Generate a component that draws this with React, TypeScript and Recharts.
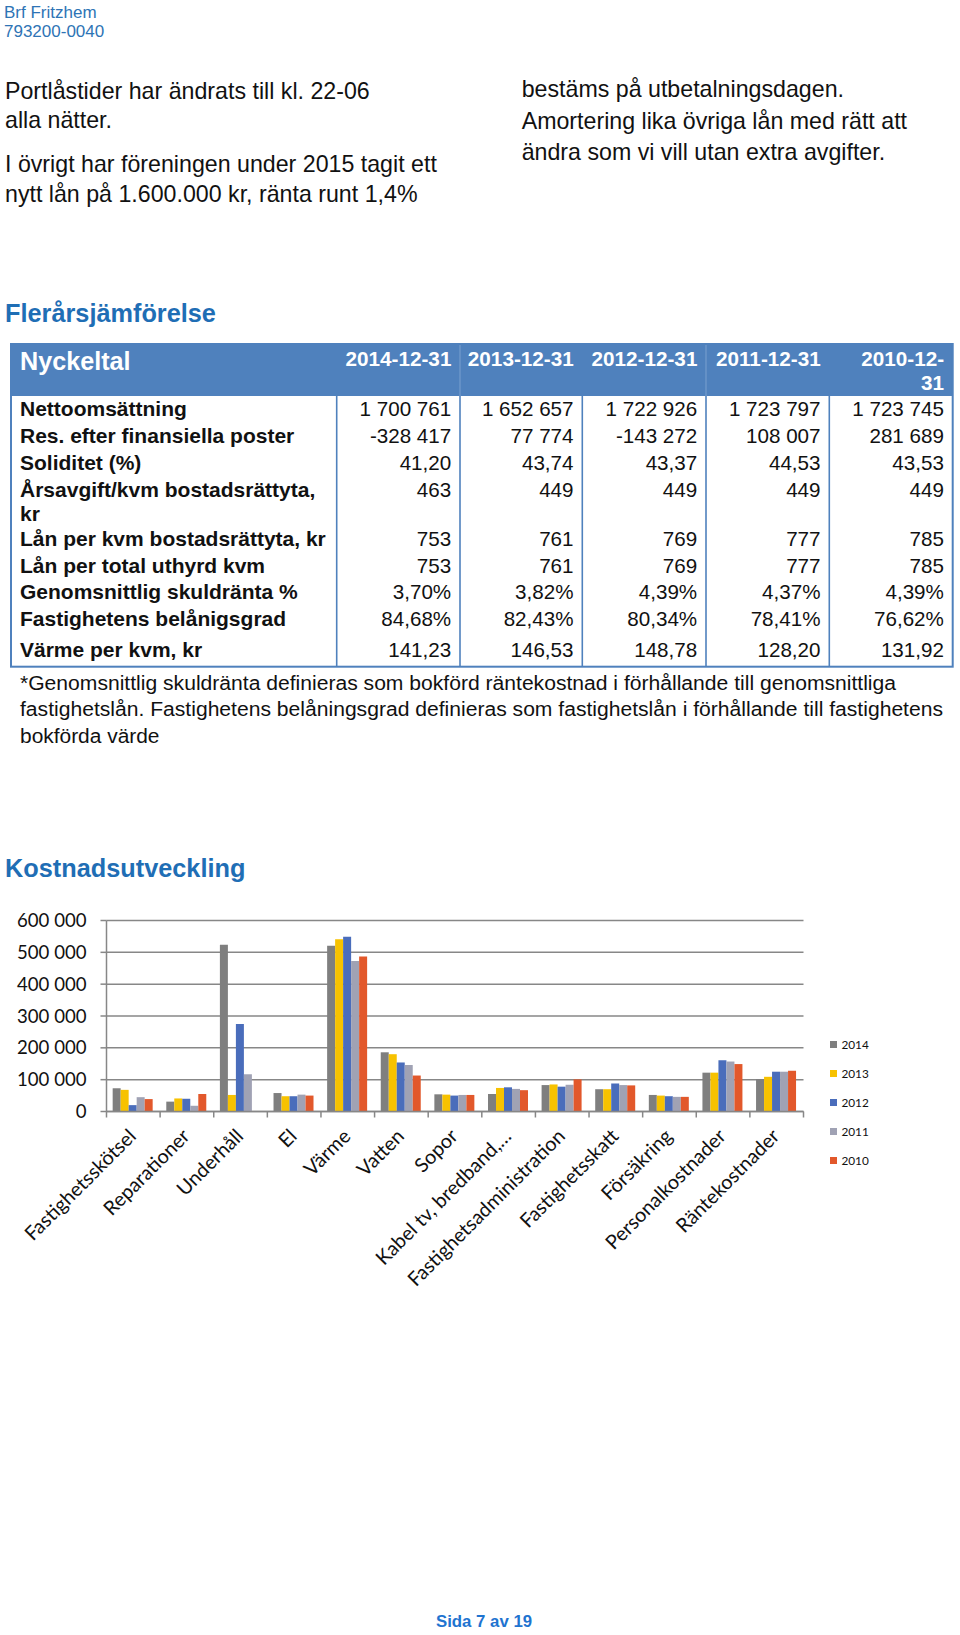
import React from 'react';
import { BarChart, Bar, XAxis, YAxis, CartesianGrid, Legend } from 'recharts';

// ---------- page text ----------
const headerLines = ['Brf Fritzhem', '793200-0040'];
const leftParagraphLines = [
  'Portlåstider har ändrats till kl. 22-06',
  'alla nätter.',
  'I övrigt har föreningen under 2015 tagit ett',
  'nytt lån på 1.600.000 kr, ränta runt 1,4%',
];
const rightParagraphLines = [
  'bestäms på utbetalningsdagen.',
  'Amortering lika övriga lån med rätt att',
  'ändra som vi vill utan extra avgifter.',
];
const sectionTitle1 = 'Flerårsjämförelse';
const sectionTitle2 = 'Kostnadsutveckling';
const footerText = 'Sida 7 av 19';
const footnoteLines = [
  '*Genomsnittlig skuldränta definieras som bokförd räntekostnad i förhållande till genomsnittliga',
  'fastighetslån. Fastighetens belåningsgrad definieras som fastighetslån i förhållande till fastighetens',
  'bokförda värde',
];

// ---------- table data ----------
const tableHeaderLabel = 'Nyckeltal';
const tableYears = ['2014-12-31', '2013-12-31', '2012-12-31', '2011-12-31', '2010-12-31'];
const tableRowLabels = [
  ['Nettoomsättning'],
  ['Res. efter finansiella poster'],
  ['Soliditet (%)'],
  ['Årsavgift/kvm bostadsrättyta,', 'kr'],
  ['Lån per kvm bostadsrättyta, kr'],
  ['Lån per total uthyrd kvm'],
  ['Genomsnittlig skuldränta %'],
  ['Fastighetens belånigsgrad'],
  ['Värme per kvm, kr'],
];
const col2014 = ['1 700 761', '-328 417', '41,20', '463', '753', '753', '3,70%', '84,68%', '141,23'];
const col2013 = ['1 652 657', '77 774', '43,74', '449', '761', '761', '3,82%', '82,43%', '146,53'];
const col2012 = ['1 722 926', '-143 272', '43,37', '449', '769', '769', '4,39%', '80,34%', '148,78'];
const col2011 = ['1 723 797', '108 007', '44,53', '449', '777', '777', '4,37%', '78,41%', '128,20'];
const col2010 = ['1 723 745', '281 689', '43,53', '449', '785', '785', '4,39%', '76,62%', '131,92'];
const tableColumns = [col2014, col2013, col2012, col2011, col2010];

// ---------- chart data ----------
const categories = [
  'Fastighetsskötsel',
  'Reparationer',
  'Underhåll',
  'El',
  'Värme',
  'Vatten',
  'Sopor',
  'Kabel tv, bredband,…',
  'Fastighetsadministration',
  'Fastighetsskatt',
  'Försäkring',
  'Personalkostnader',
  'Räntekostnader',
];
const seriesYears = ['2014', '2013', '2012', '2011', '2010'];
const seriesColors = ['#7f7f7f', '#f7c200', '#4a6dbb', '#a0a2b4', '#e2582b'];
const values2014 = [73000, 31000, 524000, 58000, 521000, 186000, 54000, 55000, 83000, 70000, 52000, 122000, 102000];
const values2013 = [68000, 41000, 52000, 48000, 541000, 180000, 53000, 74000, 85000, 70000, 50000, 122000, 109000];
const values2012 = [20000, 40000, 275000, 48000, 549000, 154000, 50000, 76000, 78000, 88000, 48000, 161000, 125000];
const values2011 = [45000, 18000, 117000, 53000, 473000, 146000, 52000, 71000, 84000, 83000, 46000, 157000, 125000];
const values2010 = [39000, 55000, 0, 50000, 487000, 113000, 52000, 67000, 101000, 82000, 46000, 149000, 128000];
const seriesValues = [values2014, values2013, values2012, values2011, values2010];
const yTicks = [0, 100000, 200000, 300000, 400000, 500000, 600000];

const chartData = categories.map((c, i) => {
  const row: Record<string, any> = { category: c };
  seriesYears.forEach((y, s) => {
    row[y] = seriesValues[s][i];
  });
  return row;
});

// ---------- layout ----------
const ARIAL = "'Liberation Sans', Arial, sans-serif";
const CALIBRI = "Lato, 'Open Sans', sans-serif";
const BLUE_HEAD = '#1f6eb5';
const TABLE_BLUE = '#4f81bd';

const CHART_TOP = 880;
const CHART_W = 960;
const CHART_H = 420;
const MARGIN = { top: 40.5, right: 156.5, bottom: 20, left: 0 };
const Y_AXIS_W = 106.5;
const PLOT_H = 191;
const X_AXIS_H = CHART_H - MARGIN.top - MARGIN.bottom - PLOT_H;
const PLOT_W = CHART_W - MARGIN.left - MARGIN.right - Y_AXIS_W;
const PLOT_BOTTOM = MARGIN.top + PLOT_H;
const AXIS_COLOR = '#878787';

const fmtThousands = (v: number) => String(v).replace(/\B(?=(\d{3})+(?!\d))/g, ' ');

const XTick = (props: any) => {
  const { x, payload, index } = props;
  const n = categories.length;
  const band = PLOT_W / n;
  const tx = x + 4;
  const ty = PLOT_BOTTOM + 26;
  return (
    <g>
      <line x1={x - band / 2} y1={PLOT_BOTTOM} x2={x - band / 2} y2={PLOT_BOTTOM + 6} stroke={AXIS_COLOR} strokeWidth={1.5} />
      {index === n - 1 && (
        <line x1={x + band / 2} y1={PLOT_BOTTOM} x2={x + band / 2} y2={PLOT_BOTTOM + 6} stroke={AXIS_COLOR} strokeWidth={1.5} />
      )}
      <text
        x={tx}
        y={ty}
        transform={`rotate(-45 ${tx} ${ty})`}
        textAnchor="end"
        fontFamily={CALIBRI}
        fontSize={19.8}
        fill="#111"
      >
        {payload.value}
      </text>
    </g>
  );
};

const renderLegend = (props: any) => {
  const payload = [...(props.payload || [])].sort(
    (a: any, b: any) => seriesYears.indexOf(String(a.value)) - seriesYears.indexOf(String(b.value)),
  );
  return (
    <div style={{ fontFamily: CALIBRI, fontSize: 11.8, color: '#111' }}>
      {payload.map((p: any) => (
        <div key={p.value} style={{ display: 'flex', alignItems: 'center', height: 29 }}>
          <span style={{ display: 'inline-block', width: 7, height: 7, background: p.color, marginRight: 4.4 }} />
          <span>{p.value}</span>
        </div>
      ))}
    </div>
  );
};

// table geometry
const T_LEFT = 11;
const T_TOP = 344;
const T_RIGHT = 952.7;
const T_BOTTOM = 666.7;
const T_HEAD_BOTTOM = 396;
const COL_BOUNDS = [336.7, 460, 582.3, 706, 829.3, 952.7];
const ROW_BASELINES = [416, 443.3, 470, 496.7, 545.7, 572.7, 599.3, 626, 656.7];
const LINE_STEP = 24;

const Page = () => {
  return (
    <svg width={960} height={1635} style={{ position: 'absolute', left: 0, top: 0 }}>
      {/* header */}
      {headerLines.map((t, i) => (
        <text key={t} x={4} y={18.3 + i * 18.4} fontFamily={ARIAL} fontSize={17} fill="#2e74b5">
          {t}
        </text>
      ))}
      {/* paragraphs */}
      {leftParagraphLines.map((t, i) => (
        <text key={t} x={5} y={[98.7, 128.3, 171.7, 201.7][i]} fontFamily={ARIAL} fontSize={23.2} fill="#111">
          {t}
        </text>
      ))}
      {rightParagraphLines.map((t, i) => (
        <text key={t} x={521.7} y={[97.3, 128.7, 159.5][i]} fontFamily={ARIAL} fontSize={23.2} fill="#111">
          {t}
        </text>
      ))}
      {/* section title */}
      <text x={5} y={322.3} fontFamily={ARIAL} fontWeight="bold" fontSize={25.3} fill={BLUE_HEAD}>
        {sectionTitle1}
      </text>

      {/* table */}
      <rect x={T_LEFT} y={T_TOP} width={T_RIGHT - T_LEFT} height={T_HEAD_BOTTOM - T_TOP} fill={TABLE_BLUE} />
      <line x1={460} y1={T_TOP} x2={460} y2={T_HEAD_BOTTOM} stroke="#7aa0cf" strokeWidth={1} />
      <line x1={706} y1={T_TOP} x2={706} y2={T_HEAD_BOTTOM} stroke="#7aa0cf" strokeWidth={1} />
      <rect x={T_LEFT} y={T_TOP} width={T_RIGHT - T_LEFT} height={T_BOTTOM - T_TOP} fill="none" stroke={TABLE_BLUE} strokeWidth={2} />
      {COL_BOUNDS.slice(0, 5).map((bx) => (
        <line key={bx} x1={bx} y1={T_HEAD_BOTTOM} x2={bx} y2={T_BOTTOM} stroke={TABLE_BLUE} strokeWidth={1.6} />
      ))}
      <text x={20} y={370} fontFamily={ARIAL} fontWeight="bold" fontSize={25.2} fill="#fff">
        {tableHeaderLabel}
      </text>
      {tableYears.map((y, i) => {
        const right = COL_BOUNDS[i + 1] - 8.6;
        if (i === tableYears.length - 1) {
          const cut = y.lastIndexOf('-') + 1;
          return (
            <g key={y}>
              <text x={right} y={366} textAnchor="end" fontFamily={ARIAL} fontWeight="bold" fontSize={20.7} fill="#fff">
                {y.slice(0, cut)}
              </text>
              <text x={right} y={390} textAnchor="end" fontFamily={ARIAL} fontWeight="bold" fontSize={20.7} fill="#fff">
                {y.slice(cut)}
              </text>
            </g>
          );
        }
        return (
          <text key={y} x={right} y={366} textAnchor="end" fontFamily={ARIAL} fontWeight="bold" fontSize={20.7} fill="#fff">
            {y}
          </text>
        );
      })}
      {tableRowLabels.map((lines, r) => (
        <g key={r}>
          {lines.map((l, k) => (
            <text key={l} x={20} y={ROW_BASELINES[r] + k * LINE_STEP} fontFamily={ARIAL} fontWeight="bold" fontSize={21} fill="#111">
              {l}
            </text>
          ))}
          {tableColumns.map((col, c) => (
            <text
              key={c}
              x={COL_BOUNDS[c + 1] - 8.8}
              y={ROW_BASELINES[r]}
              textAnchor="end"
              fontFamily={ARIAL}
              fontSize={20.6}
              fill="#111"
            >
              {col[r]}
            </text>
          ))}
        </g>
      ))}

      {/* footnote */}
      {footnoteLines.map((t, i) => (
        <text
          key={t}
          x={20}
          y={690 + i * 26.4}
          fontFamily={ARIAL}
          fontSize={19.5}
          fill="#111"
          textLength={[876, 923, 139.5][i]}
          lengthAdjust="spacingAndGlyphs"
        >
          {t}
        </text>
      ))}

      {/* chart title */}
      <text x={5} y={876.7} fontFamily={ARIAL} fontWeight="bold" fontSize={25.3} fill={BLUE_HEAD}>
        {sectionTitle2}
      </text>

      {/* footer */}
      <text x={484} y={1627.3} textAnchor="middle" fontFamily={ARIAL} fontWeight="bold" fontSize={16.8} fill="#1f74d0">
        {footerText}
      </text>
    </svg>
  );
};

const CostChart = () => (
  <div style={{ position: 'absolute', left: 0, top: CHART_TOP, width: CHART_W, height: CHART_H }}>
    <BarChart
      width={CHART_W}
      height={CHART_H}
      data={chartData}
      margin={MARGIN}
      barCategoryGap="11.5%"
      barGap={0}
    >
      <CartesianGrid vertical={false} stroke={AXIS_COLOR} strokeWidth={1.5} />
      <XAxis
        dataKey="category"
        interval={0}
        height={X_AXIS_H}
        tickLine={false}
        axisLine={{ stroke: AXIS_COLOR, strokeWidth: 1.5 }}
        tick={(p: any) => <XTick {...p} />}
      />
      <YAxis
        width={Y_AXIS_W}
        domain={[0, 600000]}
        ticks={yTicks}
        tickFormatter={fmtThousands}
        tickSize={6}
        tickMargin={14}
        tickLine={{ stroke: AXIS_COLOR, strokeWidth: 1.5 }}
        axisLine={{ stroke: AXIS_COLOR, strokeWidth: 1.5 }}
        tick={{ fontFamily: CALIBRI, fontSize: 18.6, fill: '#111' }}
      />
      <Legend
        layout="vertical"
        align="center"
        verticalAlign="middle"
        wrapperStyle={{ left: 830, top: 149.5, width: 80 }}
        content={renderLegend}
      />
      {seriesYears.map((y, i) => (
        <Bar key={y} dataKey={y} name={y} fill={seriesColors[i]} isAnimationActive={false} />
      ))}
    </BarChart>
  </div>
);

export default function App() {
  return (
    <div style={{ position: 'absolute', left: 0, top: 0, width: 960, height: 1635, background: '#fff' }}>
      <Page />
      <CostChart />
    </div>
  );
}
